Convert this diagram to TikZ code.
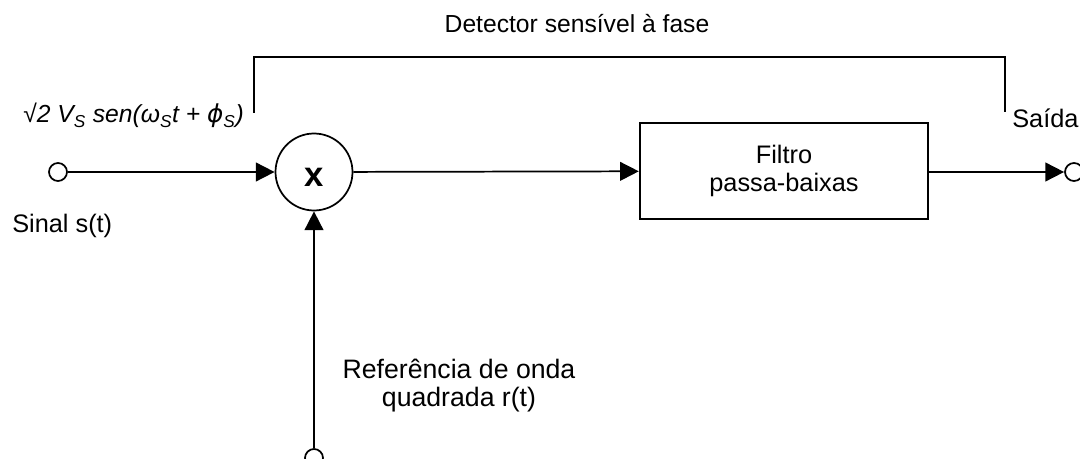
\documentclass[tikz,border=0pt]{standalone}
\usepackage{fontspec}
\setmainfont{Liberation Sans}
\newfontfamily\greekalt{DejaVu Sans}
\usetikzlibrary{arrows.meta}

\begin{document}
\begin{tikzpicture}[
  x=0.75pt, y=-0.75pt,
  lbl/.style={inner sep=0pt, font=\fontsize{19}{20.5}\selectfont},
  port/.style={circle, draw, line width=1.3pt, inner sep=0pt, minimum size=13.5pt, fill=white},
  mult/.style={circle, draw, line width=1.3pt, inner sep=0pt, minimum size=57.75pt},
  multsign/.style={inner sep=0pt, font=\bfseries\fontsize{26}{26}\selectfont},
  filt/.style={rectangle, draw, line width=1.8pt, minimum width=216pt, minimum height=72pt,
    align=center, font=\fontsize{19}{21}\selectfont},
  conn/.style={line width=1.3pt, -{Triangle[length=14pt,width=14pt]}},
  bracket/.style={line width=1.6pt}
]
\useasboundingbox (0,0) rectangle (1080,459);

% blocks and terminals
\node[port] (in) at (58,172) {};
\node[mult] (mx) at (314,172) {};
\node[multsign] (xsign) at ([yshift=-4pt]mx.center) {x};
\node[filt] (lpf) at (784,171) {Filtro\\passa-baixas};
\node[port] (out) at (1074,172) {};
\node[port] (ref) at (314,458) {};

% signal path
\draw[conn] (in) -- (mx);
\draw[conn] (mx) -- (lpf);
\draw[conn] (lpf.east |- out) -- (out);
\draw[conn] (ref) -- (mx);

% bracket spanning the phase-sensitive detector
\coordinate (bl) at (254,113);
\coordinate (blt) at (254,57);
\coordinate (brt) at (1005,57);
\coordinate (br) at (1005,112);
\draw[bracket] (bl) -- (blt) -- (brt) -- (br);

% labels
\node[lbl, anchor=base, font=\fontsize{18.5}{20}\selectfont] (det) at (577,33) {Detector sensível à fase};
\node[lbl, anchor=base west] (sai) at (1012,128) {Saída};
\node[lbl, anchor=base west, font=\fontsize{18.5}{20}\selectfont] (eq) at (23,123)
  {\itshape √2 V\textsubscript{S} sen(ω\textsubscript{S}t + {\greekalt\itshape ϕ}\textsubscript{S})};
\node[lbl, anchor=base west] (sin) at (12,233) {Sinal s(t)};
\node[lbl, align=center, font=\fontsize{20}{21}\selectfont] (rlab) at (459,386) {Referência de onda\\quadrada r(t)};
\end{tikzpicture}
\end{document}
